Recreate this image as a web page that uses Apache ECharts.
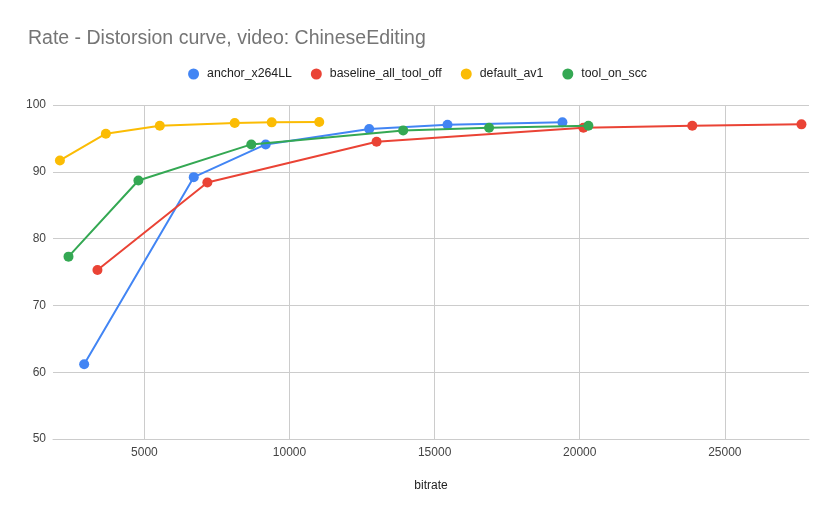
<html>
<head>
    <meta charset="utf-8">
    <title>Rate - Distorsion curve</title>
    <script src="https://cdn.jsdelivr.net/npm/echarts@6/dist/echarts.min.js"></script>
</head>
<body style="margin:0">
<div id="main" style="width: 835px;height:517px;"></div>
<script type="text/javascript">
    // bitrate / quality points
    var anchorX = [2924, 6700, 9179, 12745, 15444, 19403];
    var anchorY = [61.2, 89.2, 94.1, 96.4, 97.05, 97.4];
    var baselineX = [3382, 7169, 13000, 20126, 23878, 27640];
    var baselineY = [75.3, 88.4, 94.5, 96.6, 96.9, 97.1];
    var defaultX = [2088, 3671, 5530, 8112, 9386, 11024];
    var defaultY = [91.7, 95.7, 96.9, 97.3, 97.4, 97.45];
    var sccX = [2384, 4793, 8683, 13916, 16876, 20298];
    var sccY = [77.3, 88.7, 94.1, 96.2, 96.6, 96.9];

    var names = ['anchor_x264LL', 'baseline_all_tool_off', 'default_av1', 'tool_on_scc'];
    var colors = ['#4285F4', '#EA4335', '#FBBC04', '#34A853'];

    function pairs(xs, ys) {
        var out = [];
        for (var i = 0; i < xs.length; i++) out.push([xs[i], ys[i]]);
        return out;
    }
    var allData = [pairs(anchorX, anchorY), pairs(baselineX, baselineY),
                   pairs(defaultX, defaultY), pairs(sccX, sccY)];

    var font = 'Arial, "Liberation Sans", sans-serif';
    var myChart = echarts.init(document.getElementById('main'));
    myChart.setOption({
        animation: false,
        color: colors,
        title: {
            text: 'Rate - Distorsion curve, video: ChineseEditing',
            left: 23,
            top: 24,
            textStyle: { fontFamily: font, fontSize: 19.5, fontWeight: 'normal', color: '#757575' }
        },
        legend: {
            top: 63,
            left: 'center',
            icon: 'circle',
            itemWidth: 11,
            itemHeight: 11,
            itemGap: 19,
            data: names,
            textStyle: { fontFamily: font, fontSize: 12.3, color: '#222', padding: [0, 0, 0, 3] }
        },
        grid: { left: 53, right: 26, top: 105, bottom: 78, containLabel: false },
        xAxis: {
            type: 'value',
            min: 1850,
            max: 27900,
            splitNumber: 5,
            name: 'bitrate',
            nameLocation: 'middle',
            nameGap: 41,
            nameTextStyle: { fontFamily: font, fontSize: 12, color: '#222' },
            axisLine: { show: true, lineStyle: { color: '#cccccc' } },
            axisTick: { show: false },
            axisLabel: { fontFamily: font, fontSize: 12, color: '#444', margin: 8,
                         showMinLabel: false, showMaxLabel: false,
                         formatter: function (v) { return String(v); } },
            splitLine: { show: true, showMinLine: false, showMaxLine: false,
                         lineStyle: { color: '#cccccc' } }
        },
        yAxis: {
            type: 'value',
            min: 50,
            max: 100,
            interval: 10,
            axisLine: { show: false },
            axisTick: { show: false },
            axisLabel: { fontFamily: font, fontSize: 12, color: '#444', margin: 7 },
            splitLine: { lineStyle: { color: '#cccccc' } }
        },
        series: names.map(function (n, i) {
            return {
                name: n,
                type: 'line',
                data: allData[i],
                symbol: 'circle',
                symbolSize: 10,
                lineStyle: { width: 2 },
                z: 2 + i
            };
        })
    });
</script>
</body>
</html>
